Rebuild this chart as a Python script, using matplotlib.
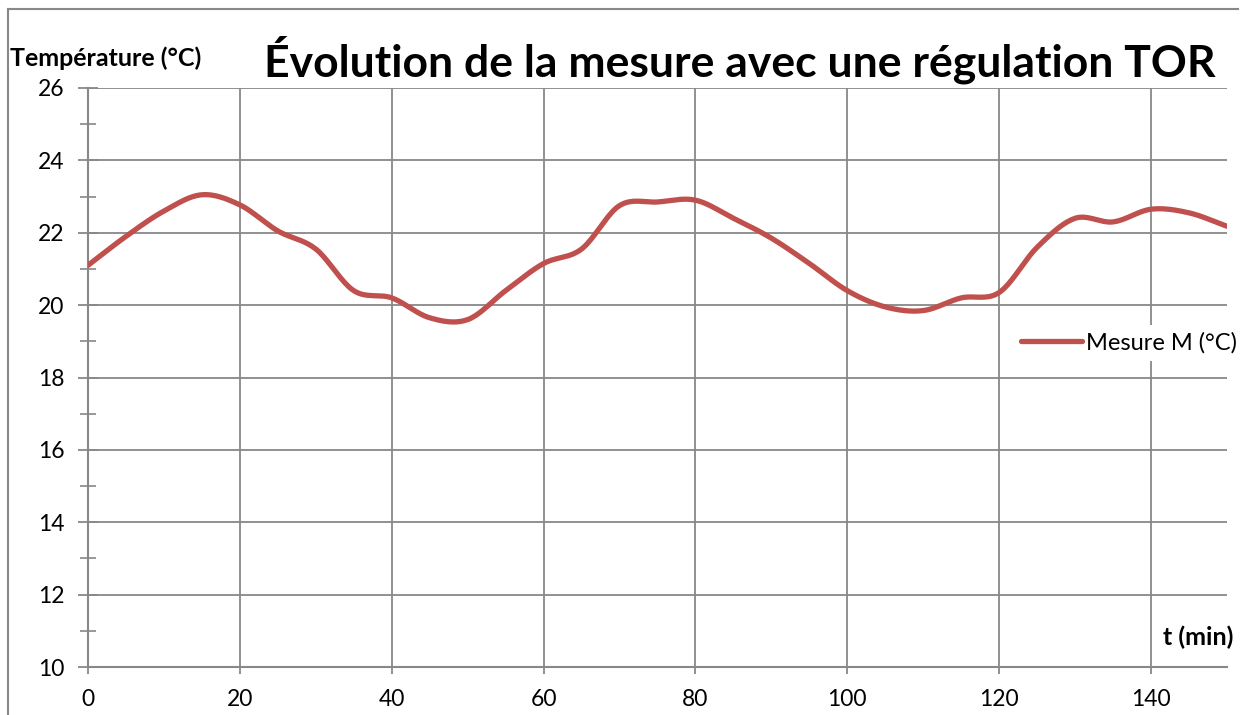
import numpy as np
import matplotlib
matplotlib.use("Agg")
import matplotlib.pyplot as plt
from matplotlib.lines import Line2D

t_min = [0, 5, 10, 15, 20, 25, 30, 35, 40, 45, 50, 55, 60, 65, 70, 75,
         80, 85, 90, 95, 100, 105, 110, 115, 120, 125, 130, 135, 140, 145, 150]
mesure = [21.1, 21.9, 22.6, 23.05, 22.77, 22.05, 21.55, 20.4, 20.2, 19.65, 19.6,
          20.4, 21.15, 21.55, 22.75, 22.85, 22.9, 22.4, 21.85, 21.15, 20.4, 19.95,
          19.85, 20.2, 20.35, 21.6, 22.4, 22.3, 22.65, 22.55, 22.18]
x_ticks = [0, 20, 40, 60, 80, 100, 120, 140]
y_ticks = [10, 12, 14, 16, 18, 20, 22, 24, 26]

title = "Évolution de la mesure avec une régulation TOR"
ylabel = "Température (°C)"
xlabel = "t (min)"
series_name = "Mesure M (°C)"


def smooth(x, y, n=20):
    # Catmull-Rom style smoothing (like Excel's smoothed line)
    x = np.asarray(x, float)
    y = np.asarray(y, float)
    px = np.concatenate([[2 * x[0] - x[1]], x, [2 * x[-1] - x[-2]]])
    py = np.concatenate([[2 * y[0] - y[1]], y, [2 * y[-1] - y[-2]]])
    xs, ys = [], []
    s = np.linspace(0, 1, n, endpoint=False)
    for i in range(1, len(px) - 2):
        p0, p1, p2, p3 = py[i - 1], py[i], py[i + 1], py[i + 2]
        q0, q1, q2, q3 = px[i - 1], px[i], px[i + 1], px[i + 2]
        for arr, a0, a1, a2, a3 in ((ys, p0, p1, p2, p3), (xs, q0, q1, q2, q3)):
            arr.extend(0.5 * ((2 * a1) + (-a0 + a2) * s +
                              (2 * a0 - 5 * a1 + 4 * a2 - a3) * s ** 2 +
                              (-a0 + 3 * a1 - 3 * a2 + a3) * s ** 3))
    xs.append(x[-1])
    ys.append(y[-1])
    return np.array(xs), np.array(ys)


plt.rcParams['font.family'] = ['Lato', 'DejaVu Sans']
fig = plt.figure(figsize=(12.49, 7.15), dpi=100)
ax = fig.add_axes([88 / 1249, 48 / 715, (1227 - 88) / 1249, (667 - 88) / 715])

grid_c = '#888888'
xs, ys = smooth(t_min, mesure)
ax.plot(xs, ys, color='#C0504D', lw=3.8, solid_capstyle='round', zorder=3,
        label=series_name)

ax.set_xlim(0, 150)
ax.set_ylim(10, 26)
ax.set_xticks(x_ticks)
ax.set_yticks(y_ticks)
ax.set_yticks(np.arange(11, 26, 2), minor=True)
ax.grid(True, which='major', color=grid_c, lw=1.3, zorder=1)
ax.set_axisbelow(True)
for sp in ['top', 'right']:
    ax.spines[sp].set_visible(False)
for sp in ['left', 'bottom']:
    ax.spines[sp].set_color(grid_c)
    ax.spines[sp].set_linewidth(1.5)
ax.tick_params(axis='y', which='major', direction='inout', length=14, width=1.3,
               color=grid_c, labelsize=16.5, pad=10)
ax.tick_params(axis='y', which='minor', direction='inout', length=12, width=1.2,
               color=grid_c)
ax.tick_params(axis='x', which='major', direction='out', length=5, width=1.3,
               color=grid_c, labelsize=16.5, pad=11)

fig.text(10 / 1249, 1 - 58 / 715, ylabel, fontsize=18, fontweight='bold',
         ha='left', va='center')
fig.text(740 / 1249, 1 - 60 / 715, title, fontsize=32, fontweight='bold',
         ha='center', va='center')
fig.text(1233 / 1249, 1 - 637 / 715, xlabel, fontsize=18, fontweight='bold',
         ha='right', va='center')

leg = ax.legend(loc='center left', bbox_to_anchor=(1014 / 1249, 1 - 343 / 715),
                bbox_transform=fig.transFigure, frameon=True, fontsize=17,
                handlelength=2.6, handletextpad=0.15, borderpad=0.3,
                borderaxespad=0)
leg.get_frame().set_edgecolor('none')
leg.get_frame().set_facecolor('white')
leg.get_frame().set_alpha(1)

fig.add_artist(Line2D([8 / 1249, 8 / 1249], [0, 1 - 9 / 715],
                      transform=fig.transFigure, color='#888888', lw=1.5))
fig.add_artist(Line2D([8 / 1249, 1238 / 1249], [1 - 9 / 715, 1 - 9 / 715],
                      transform=fig.transFigure, color='#888888', lw=1.5))

fig.savefig('out.png', dpi=100)
